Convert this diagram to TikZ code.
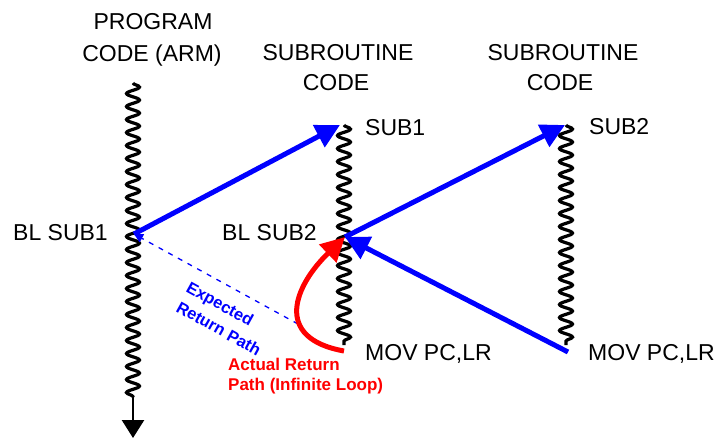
\documentclass[tikz,border=0pt]{standalone}
\usepackage{fontspec}
\setmainfont{Liberation Sans}
\usetikzlibrary{decorations.pathmorphing,arrows.meta}
\begin{document}
\begin{tikzpicture}[x=1pt,y=-1pt,
  wave/.style={draw=black, line width=3.2pt, decorate,
    decoration={snake, amplitude=6.5pt, segment length=13pt}},
  lbl/.style={font=\fontsize{23}{28}\selectfont, inner sep=0pt},
  redlbl/.style={font=\fontsize{17}{20}\selectfont\bfseries, text=red, inner sep=0pt},
  bluelbl/.style={font=\fontsize{16.5}{20}\selectfont\bfseries, text=blue, inner sep=0pt, rotate=-29},
  callarrow/.style={draw=blue, line width=5pt, -{Triangle[length=24pt,width=24pt]}},
  loopArrow/.style={draw=red, line width=5pt, -{Triangle[length=24pt,width=24pt]}},
  expectarrow/.style={draw=blue, line width=1.3pt, dash pattern=on 5pt off 6pt, -{Triangle[length=9pt,width=9pt]}},
  downarrow/.style={draw=black, line width=2.5pt, -{Triangle[length=18pt,width=22pt]}}
]
\useasboundingbox (0,0) rectangle (722,440);
% wavy code lines
\coordinate (p1top) at (133,83);
\coordinate (p1bot) at (133,397);
\coordinate (p1end) at (133,438);
\coordinate (s1top) at (344,125);
\coordinate (s1bot) at (344,345);
\coordinate (s2top) at (566,125);
\coordinate (s2bot) at (566,345);
\draw[wave] (p1top) -- (p1bot);
\draw[downarrow] (p1bot) -- (p1end);
\draw[wave] (s1top) -- (s1bot);
\draw[wave] (s2top) -- (s2bot);
% arrow end points
\coordinate (bl1) at (134,234);
\coordinate (sub1) at (340,125);
\coordinate (bl2) at (345,237);
\coordinate (sub2) at (565,125);
\coordinate (mov1) at (344,351);
\coordinate (mov2) at (568,352);
\coordinate (dashstart) at (298,324);
% headings
\node[lbl, anchor=base] (h1a) at (153,29) {PROGRAM};
\node[lbl, anchor=base] (h1b) at (152,61) {CODE (ARM)};
\node[lbl, anchor=base] (h2a) at (338,60) {SUBROUTINE};
\node[lbl, anchor=base] (h2b) at (336,90) {CODE};
\node[lbl, anchor=base] (h3a) at (563,60) {SUBROUTINE};
\node[lbl, anchor=base] (h3b) at (560,90) {CODE};
% labels
\node[lbl, anchor=base west] (lsub1) at (365,135) {SUB1};
\node[lbl, anchor=base west] (lsub2) at (589,134) {SUB2};
\node[lbl, anchor=base west] (lbl1) at (13,240) {BL SUB1};
\node[lbl, anchor=base west] (lbl2) at (222,240) {BL SUB2};
\node[lbl, anchor=base west] (lmov1) at (365,360) {MOV PC,LR};
\node[lbl, anchor=base west] (lmov2) at (588,360) {MOV PC,LR};
\node[redlbl, anchor=base west] (act1) at (228,370) {Actual Return};
\node[redlbl, anchor=base west] (act2) at (228,390) {Path (Infinite Loop)};
\node[bluelbl, anchor=base west] (exp1) at (185,291) {Expected};
\node[bluelbl, anchor=base west] (exp2) at (175,311) {Return Path};
% connectors
\draw[expectarrow] (dashstart) -- (bl1);
\draw[loopArrow] (mov1) .. controls (272,338) and (295,285) .. (bl2);
\draw[callarrow] (bl1) -- (sub1);
\draw[callarrow] (bl2) -- (sub2);
\draw[callarrow] (mov2) -- (bl2);
\end{tikzpicture}
\end{document}
